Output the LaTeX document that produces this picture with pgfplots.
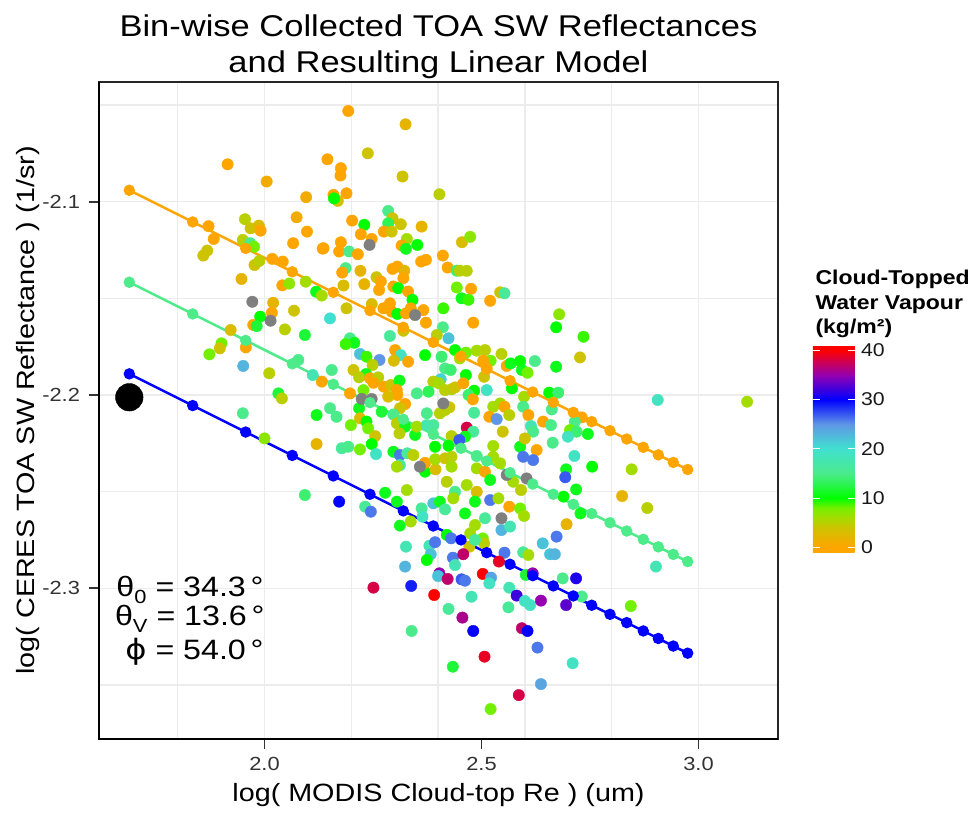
\documentclass[border=0pt]{standalone}
\usepackage{pgfplots}
\usepackage{pgfplotstable}
\pgfplotsset{compat=1.18}
\usetikzlibrary{calc}
\usepackage{fontspec}
\setmainfont{Liberation Sans}[FakeStretch=1.15]
\newfontfamily\dejavu{DejaVu Sans}[FakeStretch=1.15]
\definecolor{lineorange}{RGB}{255,165,0}
\definecolor{linegreen}{RGB}{77,235,138}
\definecolor{lineblue}{RGB}{0,0,255}
\definecolor{naGray}{RGB}{127,127,127}
\definecolor{gridc}{RGB}{236,236,236}
\definecolor{tickc}{RGB}{51,51,51}
\pgfplotsset{
  colormap={wv}{rgb255(0pt)=(255,165,0); rgb255(1pt)=(255,165,0); rgb255(3pt)=(230,180,0); rgb255(5pt)=(205,195,0); rgb255(7pt)=(165,220,0); rgb255(9pt)=(115,240,0); rgb255(11pt)=(0,255,0); rgb255(16pt)=(75,235,140); rgb255(21pt)=(64,224,208); rgb255(26pt)=(95,150,230); rgb255(31pt)=(0,0,255); rgb255(36pt)=(150,0,175); rgb255(41pt)=(255,0,0); rgb255(42pt)=(255,0,0)}
}
\pgfplotstableread{
x y c
1.915 -2.0807 0
2.005 -2.0896 1
2.096 -2.0977 1
2.074 -2.1081 1
2.098 -2.1155 0
2.066 -2.1215 0
2.134 -2.1243 0
1.955 -2.1091 5
1.968 -2.1138 4
1.987 -2.1124 3
1.991 -2.1150 0
1.871 -2.1127 0
1.883 -2.1193 0
1.868 -2.1253 4
1.859 -2.1279 4
1.950 -2.1198 5
1.967 -2.1215 15
1.976 -2.1233 8
1.977 -2.1328 4
1.988 -2.1307 5
2.018 -2.1296 0
2.042 -2.1310 0
1.947 -2.1400 2
2.041 -2.1433 0
2.057 -2.1424 7
2.095 -2.1414 6
2.119 -2.1466 11
2.132 -2.1486 6
2.193 -2.0531 0
2.325 -2.0600 2
2.238 -2.0750 4
2.145 -2.0781 0
2.176 -2.0827 0
2.175 -2.0865 0
2.318 -2.0870 4
2.403 -2.0962 5
2.159 -2.0965 0
2.169 -2.0996 4
2.160 -2.0983 10
2.189 -2.0957 0
2.285 -2.1048 15
2.202 -2.1098 0
2.230 -2.1120 10
2.295 -2.1086 4
2.285 -2.1112 13
2.314 -2.1117 4
2.275 -2.1155 0
2.293 -2.1155 4
2.222 -2.1169 0
2.247 -2.1193 0
2.176 -2.1210 0
2.172 -2.1258 0
2.136 -2.1241 0
2.195 -2.1258 15
2.215 -2.1272 0
2.362 -2.1129 2
2.328 -2.1193 6
2.316 -2.1227 0
2.326 -2.1244 11
2.352 -2.1224 10
2.361 -2.1310 0
2.372 -2.1301 0
2.411 -2.1279 0
2.422 -2.1341 0
2.455 -2.1210 3
2.474 -2.1182 7
2.443 -2.1357 14
2.450 -2.1357 5
2.466 -2.1358 5
2.187 -2.1344 15
2.179 -2.1367 0
2.221 -2.1358 2
2.258 -2.1391 4
2.268 -2.1413 0
2.230 -2.1427 2
2.182 -2.1434 3
2.295 -2.1348 0
2.306 -2.1336 0
2.322 -2.1357 2
2.320 -2.1396 0
2.297 -2.1439 0
2.264 -2.1457 0
2.308 -2.1448 10
2.331 -2.1465 0
2.341 -2.1508 10
2.443 -2.1444 8
2.476 -2.1451 0
2.454 -2.1500 11
2.470 -2.1508 9
2.520 -2.1513 0
2.543 -2.1469 4
2.553 -2.1474 16
2.189 -2.1552 4
2.247 -2.1530 3
2.274 -2.1552 0
2.289 -2.1526 0
2.293 -2.1569 0
2.306 -2.1581 10
2.326 -2.1578 0
2.337 -2.1552 0
2.366 -2.1561 0
2.372 -2.1626 0
2.320 -2.1668 4
2.151 -2.1604 20
2.412 -2.1552 9
2.481 -2.1626 0
2.411 -2.1650 15
2.424 -2.1707 22
2.397 -2.1690 5
2.197 -2.1707 15
2.207 -2.1730 11
2.187 -2.1737 9
2.289 -2.1695 16
2.301 -2.1768 0
2.314 -2.1794 19
2.298 -2.1823 3
2.331 -2.1828 0
2.220 -2.1788 22
2.235 -2.1802 9
2.265 -2.1819 25
2.249 -2.1845 5
2.205 -2.1871 4
2.155 -2.1871 15
2.234 -2.1892 11
2.218 -2.1909 5
2.370 -2.1794 10
2.408 -2.1802 14
2.416 -2.1863 15
2.429 -2.1871 14
2.439 -2.1768 10
2.450 -2.1811 6
2.464 -2.1781 8
2.489 -2.1771 6
2.508 -2.1768 5
2.521 -2.1823 8
2.504 -2.1823 0
2.512 -2.1863 0
2.546 -2.1788 5
2.558 -2.1850 0
2.567 -2.1837 11
2.589 -2.1825 10
2.593 -2.1871 11
2.606 -2.1885 8
2.623 -2.1825 15
2.464 -2.1897 10
2.406 -2.1919 21
2.389 -2.1931 5
2.402 -2.1940 6
2.506 -2.1906 4
2.512 -2.1975 19
2.243 -2.1914 0
2.262 -2.1909 5
2.251 -2.1937 0
2.275 -2.1957 0
2.291 -2.1949 4
2.311 -2.1926 11
2.305 -2.1975 0
2.306 -2.2000 0
2.324 -2.2047 0
2.228 -2.1975 8
2.197 -2.1992 0
2.132 -2.1931 0
2.351 -2.1992 15
2.378 -2.1983 13
2.416 -2.1975 5
2.431 -2.1971 5
2.439 -2.1961 4
2.458 -2.1940 0
2.483 -2.1978 10
2.470 -2.2000 14
2.480 -2.2023 0
2.570 -2.1966 10
2.598 -2.2009 6
2.312 -2.2069 4
2.285 -2.2009 3
2.151 -2.2069 15
2.166 -2.2113 15
2.218 -2.2069 11
2.220 -2.2121 3
2.199 -2.2156 8
2.235 -2.2138 10
2.239 -2.2173 8
2.255 -2.2213 4
2.247 -2.2254 10
2.220 -2.2282 8
2.270 -2.2087 12
2.297 -2.2101 15
2.305 -2.2147 5
2.324 -2.2164 11
2.311 -2.2199 5
2.347 -2.2207 11
2.351 -2.2164 6
2.374 -2.2095 15
2.389 -2.2156 16
2.374 -2.2156 17
2.404 -2.2095 5
2.426 -2.2064 4
2.416 -2.2078 5
2.483 -2.2092 16
2.527 -2.2061 6
2.543 -2.2044 6
2.553 -2.2061 0
2.564 -2.2104 5
2.518 -2.2113 0
2.535 -2.2125 25
2.549 -2.2190 4
2.466 -2.2169 38
2.481 -2.2190 16
2.462 -2.2216 11
2.431 -2.2213 5
2.449 -2.2233 27
2.393 -2.2268 10
2.424 -2.2263 10
2.596 -2.2061 15
2.608 -2.2104 0
2.614 -2.2161 18
2.619 -2.2190 15
2.589 -2.2268 11
2.600 -2.2225 4
2.627 -2.2285 0
2.178 -2.2276 16
2.193 -2.2268 15
2.257 -2.2306 19
2.297 -2.2294 11
2.312 -2.2311 26
2.329 -2.2302 16
2.343 -2.2311 5
2.312 -2.2363 16
2.305 -2.2371 6
2.370 -2.2397 10
2.370 -2.2351 0
2.394 -2.2385 3
2.393 -2.2333 6
2.416 -2.2328 4
2.431 -2.2320 5
2.431 -2.2371 6
2.489 -2.2316 15
2.489 -2.2380 6
2.527 -2.2264 6
2.527 -2.2320 6
2.543 -2.2354 6
2.508 -2.2397 0
2.573 -2.2449 6
2.591 -2.2492 5
2.520 -2.2440 11
2.596 -2.2320 26
2.619 -2.2337 26
2.420 -2.2449 5
2.439 -2.2501 15
2.435 -2.2535 6
2.466 -2.2466 6
2.489 -2.2501 3
2.485 -2.2552 11
2.520 -2.2544 26
2.539 -2.2535 6
2.564 -2.2578 0
2.589 -2.2587 8
2.598 -2.2626 6
2.508 -2.2638 16
2.462 -2.2613 11
2.389 -2.2561 22
2.404 -2.2552 11
2.416 -2.2592 16
2.362 -2.2587 16
2.278 -2.2506 11
2.305 -2.2552 11
2.328 -2.2492 6
2.232 -2.2578 16
2.245 -2.2604 26
2.172 -2.2552 30
2.020 -2.1523 2
2.068 -2.1564 4
2.017 -2.1575 0
1.974 -2.1638 0
1.990 -2.1595 10
1.982 -2.1644 12
2.047 -2.1661 5
2.093 -2.1690 12
1.922 -2.1664 3
1.901 -2.1733 8
1.897 -2.1759 4
1.873 -2.1790 8
1.957 -2.1754 0
1.951 -2.1850 23
2.011 -2.1888 5
2.032 -2.1992 12
2.040 -2.2018 5
2.078 -2.1819 15
2.111 -2.1897 18
2.120 -2.2104 11
1.950 -2.2095 15
2.000 -2.2225 7
2.120 -2.2254 2
2.093 -2.2518 14
2.679 -2.1583 7
2.672 -2.1650 10
2.735 -2.1699 9
2.727 -2.1806 4
2.672 -2.1854 11
2.656 -2.1988 10
2.677 -2.1988 14
2.662 -2.2075 15
2.642 -2.2138 0
2.660 -2.2156 15
2.731 -2.2116 0
2.715 -2.2138 15
2.704 -2.2182 8
2.719 -2.2190 14
2.745 -2.2202 11
2.699 -2.2216 19
2.664 -2.2247 15
2.714 -2.2316 19
2.695 -2.2385 11
2.755 -2.2371 10
2.693 -2.2426 27
2.718 -2.2489 11
2.906 -2.2026 19
3.112 -2.2035 6
2.846 -2.2385 6
2.824 -2.2523 2
2.882 -2.2585 5
2.689 -2.2526 10
2.728 -2.2613 11
2.312 -2.2676 11
2.337 -2.2655 6
2.364 -2.2630 19
2.420 -2.2724 10
2.430 -2.2742 26
2.485 -2.2673 6
2.474 -2.2716 6
2.503 -2.2742 8
2.506 -2.2768 5
2.472 -2.2785 4
2.485 -2.2750 16
2.546 -2.2699 23
2.566 -2.2681 18
2.326 -2.2785 18
2.380 -2.2780 18
2.393 -2.2762 26
2.383 -2.2824 22
2.374 -2.2854 10
2.434 -2.2842 26
2.439 -2.2880 18
2.458 -2.2824 37
2.553 -2.2816 26
2.540 -2.2862 39
2.596 -2.2814 16
2.608 -2.2828 6
2.602 -2.2931 12
2.618 -2.2923 35
2.641 -2.2768 22
2.658 -2.2824 22
2.324 -2.2888 23
2.403 -2.2923 35
2.400 -2.2937 22
2.422 -2.2952 37
2.454 -2.2954 27
2.462 -2.2961 26
2.503 -2.2926 40
2.522 -2.2945 24
2.518 -2.2975 19
2.564 -2.2997 18
2.251 -2.2997 38
2.338 -2.2988 29
2.391 -2.3035 40
2.477 -2.3044 18
2.424 -2.3107 16
2.562 -2.3099 16
2.581 -2.3038 32
2.600 -2.3066 19
2.612 -2.3087 19
2.637 -2.3064 35
2.456 -2.3152 36
2.481 -2.3221 30
2.339 -2.3221 15
2.593 -2.3207 37
2.606 -2.3221 30
2.629 -2.3307 26
2.507 -2.3354 39
2.434 -2.3406 12
2.637 -2.3496 24
2.586 -2.3553 38
2.521 -2.3625 8
2.696 -2.2669 2
2.673 -2.2733 26
2.669 -2.2824 23
2.687 -2.2949 15
2.718 -2.2949 31
2.731 -2.3043 15
2.695 -2.3087 33
2.844 -2.3092 8
2.902 -2.2888 18
2.710 -2.3388 19
}\scatterdata
\pgfplotstableread{
x y
2.242 -2.1224
2.347 -2.1587
2.224 -2.2021
2.247 -2.2021
2.412 -2.2044
2.358 -2.2371
2.558 -2.2414
2.604 -2.2432
2.546 -2.2638
1.972 -2.1518
2.014 -2.1616
}\graydata
\pgfplotstableread{
x y
1.6885 -2.0941
1.8346 -2.1105
1.9567 -2.1242
2.0641 -2.1363
2.1585 -2.1469
2.2431 -2.1564
2.3198 -2.1650
2.3889 -2.1728
2.4528 -2.1800
2.5120 -2.1866
2.5657 -2.1926
2.6180 -2.1985
2.6654 -2.2038
2.7115 -2.2090
2.7539 -2.2138
2.7961 -2.2185
2.8346 -2.2228
2.8728 -2.2271
2.9074 -2.2310
2.9419 -2.2349
2.9751 -2.2386
}\orangeline
\pgfplotstableread{
x y
1.6885 -2.1417
1.8346 -2.1581
1.9567 -2.1718
2.0641 -2.1839
2.1585 -2.1945
2.2431 -2.2040
2.3198 -2.2126
2.3889 -2.2204
2.4528 -2.2276
2.5120 -2.2342
2.5657 -2.2402
2.6180 -2.2461
2.6654 -2.2514
2.7115 -2.2566
2.7539 -2.2614
2.7961 -2.2661
2.8346 -2.2704
2.8728 -2.2747
2.9074 -2.2786
2.9419 -2.2825
2.9751 -2.2862
}\greenline
\pgfplotstableread{
x y
1.6885 -2.1891
1.8346 -2.2055
1.9567 -2.2192
2.0641 -2.2313
2.1585 -2.2419
2.2431 -2.2514
2.3198 -2.2600
2.3889 -2.2678
2.4528 -2.2750
2.5120 -2.2816
2.5657 -2.2876
2.6180 -2.2935
2.6654 -2.2988
2.7115 -2.3040
2.7539 -2.3088
2.7961 -2.3135
2.8346 -2.3178
2.8728 -2.3221
2.9074 -2.3260
2.9419 -2.3299
2.9751 -2.3336
}\blueline
\begin{document}
\begin{tikzpicture}[x=1pt,y=1pt]
\path[use as bounding box] (0,0) rectangle (973,812);
\begin{axis}[
  at={(99pt,73pt)}, anchor=south west,
  scale only axis, width=679pt, height=657pt,
  xmin=1.6187, xmax=3.1832, ymin=-2.3780, ymax=-2.0381,
  xtick={2.0,2.5,3.0}, xticklabels={2.0,2.5,3.0},
  ytick={-2.3,-2.2,-2.1}, yticklabels={-2.3,-2.2,-2.1},
  minor xtick={1.8,2.0,2.2,2.4,2.6,2.8,3.0},
  minor ytick={-2.35,-2.3,-2.25,-2.2,-2.15,-2.1,-2.05},
  grid=minor,
  minor grid style={draw=gridc, line width=1.3pt},
  minor tick length=0pt,
  tick align=outside, tick pos=left,
  major tick length=9.5pt,
  major tick style={draw=tickc, line width=1.8pt},
  axis line style={draw=black!85, line width=1.3pt},
  tick label style={font=\fontsize{19}{21}\selectfont, text=tickc},
  xticklabel style={yshift=-5pt},
  yticklabel style={xshift=-6pt},
  point meta min=-1, point meta max=41,
  colormap name=wv,
  colorbar,
  colorbar/width=41.7pt,
  colorbar style={
    at={($(parent axis.south east)+(26.3pt,186.8pt)$)}, anchor=south west,
    scale only axis, width=41.7pt, height=206.9pt,
    ytick={0,10,20,30,40}, yticklabels={0,10,20,30,40},
    ytick pos=both, yticklabel pos=right,
    tick align=inside, major tick length=7pt,
    major tick style={draw=white, line width=1pt},
    axis line style={draw=none},
    xtick=\empty,
    yticklabel style={font=\fontsize{18.5}{20}\selectfont, text=black!90, xshift=3pt},
  },
]
\addplot[scatter, only marks, mark=*, mark size=5.7pt, scatter src=explicit,
  scatter/use mapped color={draw=mapped color, fill=mapped color}]
  table[x=x, y=y, meta=c] {\scatterdata};
\addplot[only marks, mark=*, mark size=5.7pt, color=naGray] table[x=x,y=y] {\graydata};
\addplot[color=lineorange, line width=2.5pt, mark=*, mark size=4.4pt] table[x=x,y=y] {\orangeline};
\addplot[color=linegreen, line width=2.5pt, mark=*, mark size=4.4pt] table[x=x,y=y] {\greenline};
\addplot[color=lineblue, line width=2.5pt, mark=*, mark size=4.4pt] table[x=x,y=y] {\blueline};
\addplot[only marks, mark=*, mark size=13.8pt, color=black] coordinates {(1.6885,-2.2012)};
\end{axis}
\draw[black, line width=2pt] (99,730) -- (99,73) -- (778,73);
\node[anchor=base, font=\fontsize{30}{36}\selectfont] at (438.5,775) {Bin-wise Collected TOA SW Reflectances};
\node[anchor=base, font=\fontsize{30}{36}\selectfont] at (438.5,739.3) {and Resulting Linear Model};
\node[anchor=base, font=\fontsize{25}{30}\selectfont] at (438.5,10.3) {log( MODIS Cloud-top Re ) (um)};
\node[anchor=base, rotate=90, font=\fontsize{25}{30}\selectfont] at (34,401.5) {log( CERES TOA SW Reflectance ) (1/sr)};
\node[anchor=base west, font=\bfseries\fontsize{20}{24}\selectfont] at (812,527) {Cloud-Topped};
\node[anchor=base west, font=\bfseries\fontsize{20}{24}\selectfont] at (812,502) {Water Vapour};
\node[anchor=base west, font=\bfseries\fontsize{20}{24}\selectfont] at (812,478) {(kg/m²)};
\node[anchor=base east, font=\fontsize{28}{30}\selectfont] at (267,215.3) {θ\lower7pt\hbox{\fontsize{19}{19}\selectfont 0} = 34.3\,°};
\node[anchor=base east, font=\fontsize{28}{30}\selectfont] at (268,186.3) {θ\lower7pt\hbox{\fontsize{19}{19}\selectfont V} = 13.6\,°};
\node[anchor=base east, font=\fontsize{28}{30}\selectfont] at (267,153) {{\dejavu ϕ} = 54.0\,°};
\end{tikzpicture}
\end{document}
